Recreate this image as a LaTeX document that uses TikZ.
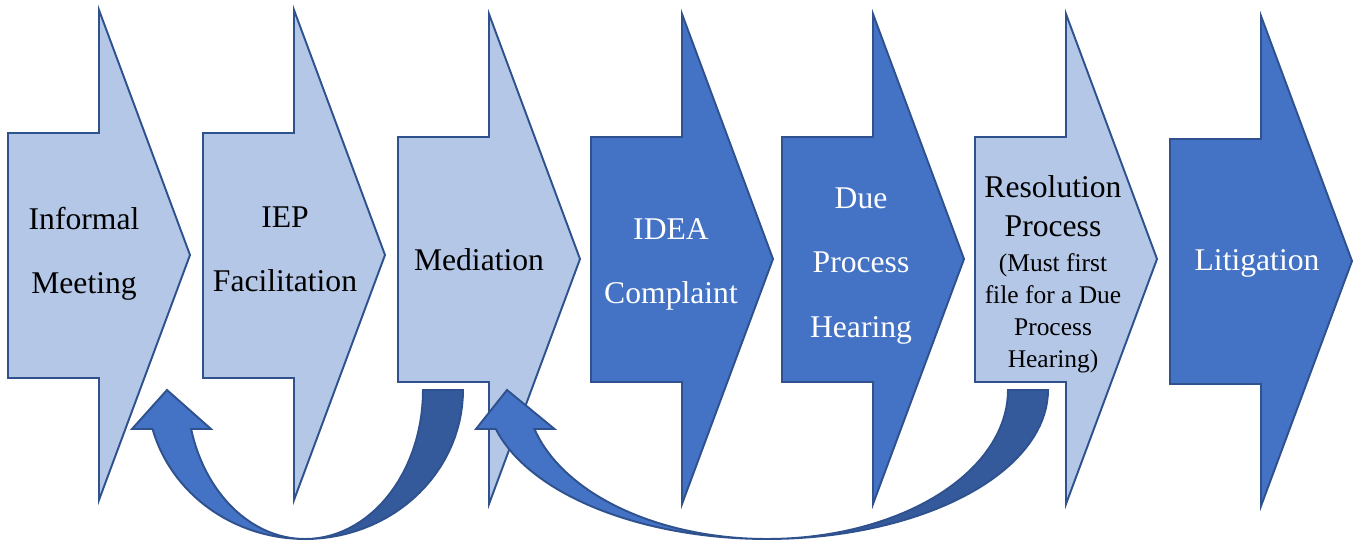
\documentclass[tikz,border=0pt]{standalone}
\usepackage{fontspec}
\setmainfont{Liberation Serif}
\usetikzlibrary{positioning}

\definecolor{lightfill}{HTML}{B4C7E7}
\definecolor{darkfill}{HTML}{4472C4}
\definecolor{edgeblue}{HTML}{2F528F}
\definecolor{backfill}{HTML}{355A9B}

% block arrow: #1 style, #2 left edge of body, #3 top of head
\newcommand{\stagearrow}[3]{%
	\draw[#1] (#2,{#3+123}) -- ({#2+91},{#3+123}) -- ({#2+91},#3) -- ({#2+182},{#3+245})
		-- ({#2+91},{#3+490}) -- ({#2+91},{#3+368}) -- (#2,{#3+368}) -- cycle;}

\begin{document}
\begin{tikzpicture}[x=0.02cm,y=-0.02cm,line width=1.1pt,
	light/.style={draw=edgeblue,fill=lightfill},
	dark/.style={draw=edgeblue,fill=darkfill},
	back/.style={draw=edgeblue,fill=backfill},
	front/.style={draw=edgeblue,fill=darkfill},
	blacktext/.style={inner sep=0pt,align=center,font=\fontsize{18}{36.5}\selectfont},
	whitetext/.style={blacktext,text=white}]
	\useasboundingbox (0,0) rectangle (1354,541);
	% the seven stages
	\stagearrow{light}{8}{10}
	\stagearrow{light}{203}{10}
	\stagearrow{light}{398}{14}
	\stagearrow{dark}{591}{14}
	\stagearrow{dark}{782}{14}
	\stagearrow{light}{975}{14}
	\stagearrow{dark}{1170}{16}
	% labels
	\node[blacktext] (informal) at (84,254) {Informal\\Meeting};
	\node[blacktext] (iep) at (285,249) {IEP\\Facilitation};
	\node[blacktext] (mediation) at (479,260) {Mediation};
	\node[whitetext] (idea) at (671,264) {IDEA\\Complaint};
	\node[whitetext] (dueprocess) at (861,266) {Due\\Process\\Hearing};
	\node[blacktext,font=\fontsize{18}{22}\selectfont] (resolution) at (1053,206) {Resolution\\Process};
	\node[blacktext,font=\fontsize{14.5}{18.2}\selectfont,below=0.3cm of resolution] (mustfile) {(Must first\\file for a Due\\Process\\Hearing)};
	\node[whitetext] (litigation) at (1257,263) {Litigation};
	% turn back from mediation
	\draw[back] plot[domain=0:90,variable=\t,samples=30] ({305+158*cos(\t)},{390+149*sin(\t)})
		-- plot[domain=90:0,variable=\t,samples=30] ({305+118*cos(\t)},{390+149*sin(\t)}) -- cycle;
	\draw[front] plot[domain=164.83:90,variable=\t,samples=30] ({305+158*cos(\t)},{390+149*sin(\t)})
		-- plot[domain=90:164.83,variable=\t,samples=30] ({305+118*cos(\t)},{390+149*sin(\t)})
		-- (211,429) -- (167,390) -- (132,429) -- cycle;
	% turn back from the resolution process
	\draw[back] plot[domain=0:90,variable=\t,samples=40] ({767+281*cos(\t)},{390+149*sin(\t)})
		-- plot[domain=90:0,variable=\t,samples=40] ({767+241*cos(\t)},{390+149*sin(\t)}) -- cycle;
	\draw[front] plot[domain=164.83:90,variable=\t,samples=40] ({767+281*cos(\t)},{390+149*sin(\t)})
		-- plot[domain=90:164.83,variable=\t,samples=40] ({767+241*cos(\t)},{390+149*sin(\t)})
		-- (554.5,429) -- (507,390) -- (476,429) -- cycle;
\end{tikzpicture}
\end{document}
